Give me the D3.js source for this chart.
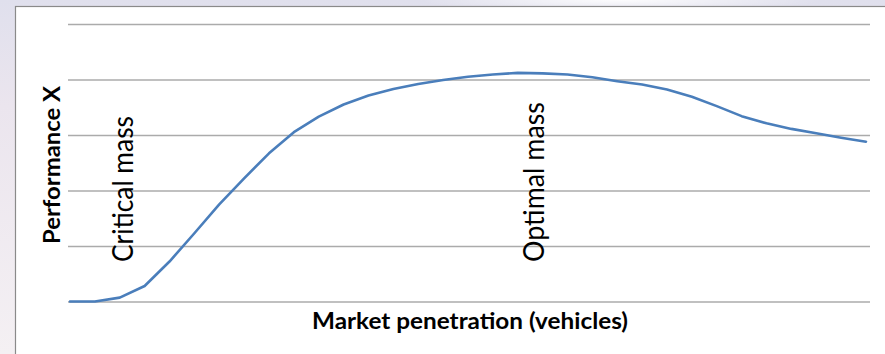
<!DOCTYPE html>
<html>
<head>
<meta charset="utf-8">
<script src="https://cdn.jsdelivr.net/npm/d3@7"></script>
<style>
  html, body { margin: 0; padding: 0; }
  body { width: 885px; height: 354px; overflow: hidden; }
  svg { display: block; }
</style>
</head>
<body>
<svg id="chart" width="885" height="354"></svg>
<script>
// Performance as a function of market penetration (33 sample steps)
const steps = d3.range(33);
const performance = [
  0, 0, 0.07, 0.28, 0.72, 1.23, 1.75, 2.22, 2.67, 3.05, 3.33,
  3.55, 3.71, 3.83, 3.92, 3.99, 4.05, 4.09, 4.12, 4.11, 4.09,
  4.04, 3.97, 3.91, 3.82, 3.69, 3.52, 3.34, 3.21, 3.11, 3.03,
  2.95, 2.88
];
const yTicks = [0, 1, 2, 3, 4, 5];
const annotations = [
  { label: "Critical mass", step: 2.53, len: 146 },
  { label: "Optimal mass", step: 19.06, len: 160 }
];
const xTitle = "Market penetration (vehicles)";
const yTitle = "Performance X";

const svg = d3.select("#chart");
const W = 885, H = 354;
const font = "Lato, 'Open Sans', sans-serif";

// slide-style backdrop behind the chart frame
const defs = svg.append("defs");
const bg = defs.append("linearGradient").attr("id", "bg")
  .attr("x1", 0).attr("y1", 0).attr("x2", 0).attr("y2", 1);
bg.append("stop").attr("offset", "0%").attr("stop-color", "#e0e0ed");
bg.append("stop").attr("offset", "30%").attr("stop-color", "#ebe5ee");
bg.append("stop").attr("offset", "100%").attr("stop-color", "#f4f0f3");
svg.append("rect").attr("width", W).attr("height", H).attr("fill", "url(#bg)");

const glow = defs.append("radialGradient").attr("id", "glow");
glow.append("stop").attr("offset", "0%").attr("stop-color", "#ffffff").attr("stop-opacity", 0.9);
glow.append("stop").attr("offset", "100%").attr("stop-color", "#ffffff").attr("stop-opacity", 0);
svg.append("ellipse").attr("cx", 620).attr("cy", 0).attr("rx", 200).attr("ry", 12)
  .attr("fill", "url(#glow)");

// chart frame
svg.append("rect")
  .attr("x", 15.5).attr("y", 6.5)
  .attr("width", W).attr("height", H)
  .attr("fill", "#ffffff")
  .attr("stroke", "#8a8a8a").attr("stroke-width", 1.2);

const x = d3.scalePoint().domain(steps).range([70, 866]);
const xStep = d3.scaleLinear().domain([0, steps.length - 1]).range(x.range());
const y = d3.scaleLinear().domain([0, 5]).range([301.5, 24]);

// horizontal gridlines
svg.append("g")
  .attr("transform", "translate(68,0)")
  .call(d3.axisLeft(y).tickValues(yTicks).tickSize(-(870 - 68)).tickFormat(""))
  .call(g => g.select(".domain").remove())
  .call(g => g.selectAll(".tick line").attr("stroke", "#ababab").attr("stroke-width", 1.3));

// vertical annotations (baseline placed at the annotated step)
svg.append("g").selectAll("text").data(annotations).join("text")
  .attr("transform", d => `translate(${xStep(d.step)},262) rotate(-90)`)
  .attr("font-family", font)
  .attr("font-size", 28)
  .attr("textLength", d => d.len)
  .attr("lengthAdjust", "spacingAndGlyphs")
  .attr("fill", "#000")
  .text(d => d.label);

// performance curve
const line = d3.line()
  .x((d, i) => x(steps[i]))
  .y(d => y(d));
svg.append("path")
  .datum(performance)
  .attr("d", line)
  .attr("fill", "none")
  .attr("stroke", "#4a7ebb")
  .attr("stroke-width", 2.6)
  .attr("stroke-linejoin", "round")
  .attr("stroke-linecap", "round");

// axis titles
svg.append("text")
  .attr("x", 470).attr("y", 329)
  .attr("text-anchor", "middle")
  .attr("font-family", font)
  .attr("font-weight", "bold")
  .attr("font-size", 23)
  .attr("textLength", 316)
  .attr("lengthAdjust", "spacingAndGlyphs")
  .attr("fill", "#000")
  .text(xTitle);

svg.append("text")
  .attr("transform", "translate(60,165) rotate(-90)")
  .attr("text-anchor", "middle")
  .attr("font-family", font)
  .attr("font-weight", "bold")
  .attr("font-size", 23)
  .attr("textLength", 158)
  .attr("lengthAdjust", "spacingAndGlyphs")
  .attr("fill", "#000")
  .text(yTitle);
</script>
</body>
</html>
